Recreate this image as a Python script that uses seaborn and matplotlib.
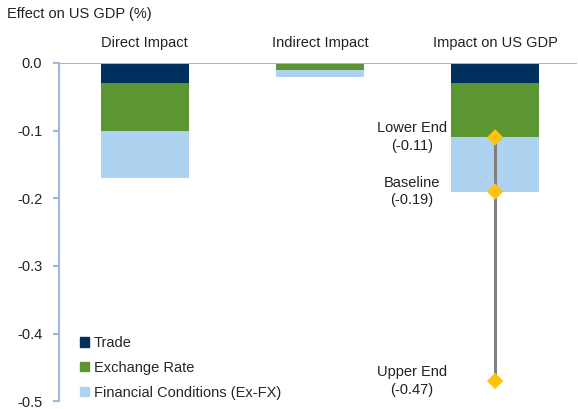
import matplotlib
matplotlib.use('Agg')
import matplotlib.pyplot as plt
from matplotlib.patches import Patch
import pandas as pd
import seaborn as sns

# ── data ─────────────────────────────────────────────
categories = ['Direct Impact', 'Indirect Impact', 'Impact on US GDP']
trade = [-0.03, 0.0, -0.03]
exchange = [-0.07, -0.01, -0.08]
financial = [-0.07, -0.01, -0.08]

range_labels = ['Lower End\n(-0.11)', 'Baseline\n(-0.19)', 'Upper End\n(-0.47)']
range_values = [-0.11, -0.19, -0.47]
yticks = [0.0, -0.1, -0.2, -0.3, -0.4, -0.5]

c_trade, c_fx, c_fin = '#00305e', '#5b9632', '#aed3f0'
c_axis = '#9db9dc'

sns.set_style('white')
plt.rcParams['font.family'] = ['Liberation Sans', 'DejaVu Sans']

df = pd.DataFrame({'cat': categories, 'trade': trade,
                   'fx': exchange, 'fin': financial})
df['s1'] = df['trade']
df['s2'] = df['s1'] + df['fx']
df['s3'] = df['s2'] + df['fin']

fig = plt.figure(figsize=(5.78, 4.09), dpi=100)
ax = fig.add_axes([0.102, 0.019, 0.897, 0.827])

# stacked bars: draw cumulative totals back-to-front
for col, c in [('s3', c_fin), ('s2', c_fx), ('s1', c_trade)]:
    sns.barplot(data=df, x='cat', y=col, color=c, width=0.5, linewidth=0,
                saturation=1, ax=ax, order=categories)

# range line + diamonds on the total bar
xr = [2] * len(range_values)
ax.plot([2, 2], [max(range_values), min(range_values)],
        color='#808080', lw=2.2, zorder=4)
sns.scatterplot(x=xr, y=range_values, marker='D', s=70, color='#ffc20e',
                edgecolor='none', zorder=5, ax=ax)
for lab, v in zip(range_labels, range_values):
    ax.text(2 - 0.475, v, lab, ha='center', va='center', fontsize=10.5,
            color='#222222', linespacing=1.35)

ax.axhline(0, color=c_axis, lw=1.5, zorder=6)

ax.set_xlim(-0.49, 2.47)
ax.set_ylim(-0.5, 0.0)
ax.set_yticks(yticks)
ax.set_yticklabels([f'{t:.1f}' for t in yticks], fontsize=10.5, color='#222222')
ax.tick_params(axis='y', length=4, width=1.5, color=c_axis, pad=8, left=True)
ax.xaxis.tick_top()
ax.set_xticks(range(len(categories)))
ax.set_xticklabels(categories, fontsize=10.5, color='#222222')
ax.tick_params(axis='x', length=0, pad=9)
ax.set_xlabel('')
ax.set_ylabel('')
for s in ['top', 'right', 'bottom']:
    ax.spines[s].set_visible(False)
ax.spines['left'].set_color(c_axis)
ax.spines['left'].set_linewidth(1.5)
ax.spines['left'].set_zorder(6)

handles = [Patch(color=c_trade), Patch(color=c_fx), Patch(color=c_fin)]
ax.legend(handles, ['Trade', 'Exchange Rate', 'Financial Conditions (Ex-FX)'],
          loc='lower left', bbox_to_anchor=(0.015, -0.035), frameon=False,
          fontsize=10.5, handlelength=0.6, handleheight=0.6,
          handletextpad=0.35, labelspacing=0.75)

fig.text(0.012, 0.965, 'Effect on US GDP (%)', fontsize=10.5, va='center',
         color='#222222')

fig.savefig('out.png', dpi=100)
